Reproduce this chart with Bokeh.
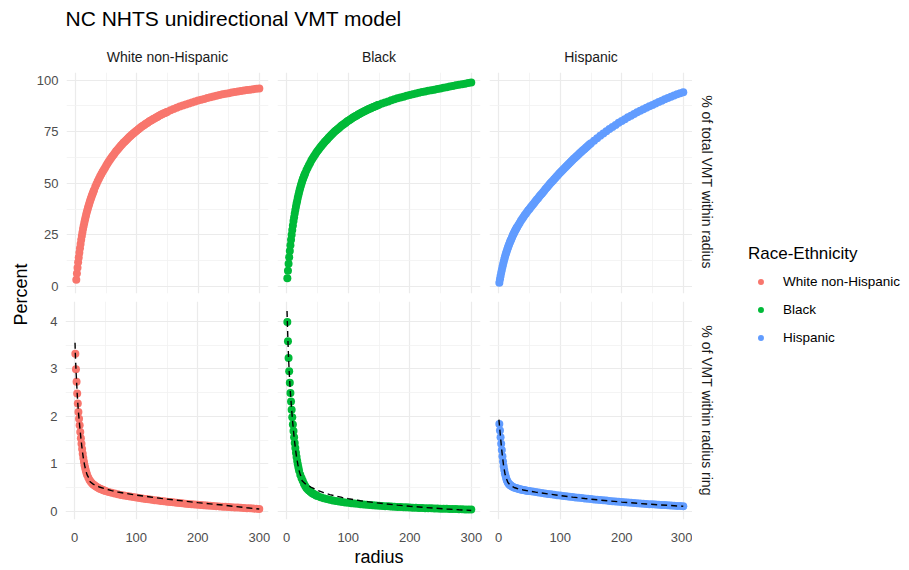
import math
from bokeh.plotting import figure
from bokeh.models import FixedTicker, Range1d, Legend, LegendItem, ColumnDataSource
from bokeh.layouts import row, column
from bokeh.embed import file_html
from bokeh.resources import INLINE
from bokeh.core.properties import value

FONT = "Liberation Sans"
TITLE = "NC NHTS unidirectional VMT model"
GROUPS = ["White non-Hispanic", "Black", "Hispanic"]
COLORS = ["#F8766D", "#00BA38", "#619CFF"]
ROW_LABELS = ["% of total VMT within radius", "% of VMT within radius ring"]
Y_TITLE = "Percent"
X_TITLE = "radius"
LEGEND_TITLE = "Race-Ethnicity"

X_TICKS = [0, 100, 200, 300]
X_MINOR = [50, 150, 250]
TOP_TICKS = [0, 25, 50, 75, 100]
TOP_MINOR = [12.5, 37.5, 62.5, 87.5]
BOT_TICKS = [0, 1, 2, 3, 4]
BOT_MINOR = [0.5, 1.5, 2.5, 3.5]

# ---------- % of total VMT within radius ----------
TOP_X = [1, 2, 3, 4, 5, 6, 7, 8, 9, 10, 11, 12, 13, 14, 15, 16, 17, 18, 19, 20,
         21, 22, 23, 24, 25, 26, 27, 28, 29, 30,
         32, 34, 36, 38, 40, 42, 44, 46, 48, 50,
         52, 54, 56, 58, 60, 62, 64, 66, 68, 70, 72, 74, 76, 78, 80,
         82, 84, 86, 88, 90, 92, 94, 96, 98, 100,
         102, 104, 106, 108, 110, 112, 114, 116, 118, 120, 122, 124, 126, 128, 130,
         132, 134, 136, 138, 140, 142, 144, 146, 148, 150,
         155, 160, 165, 170, 175, 180, 185, 190, 195, 200,
         205, 210, 215, 220, 225, 230, 235, 240, 245, 250,
         255, 260, 265, 270, 275, 280, 285, 290, 295, 300]
TOP_WHITE = [3.3, 6.3, 9.1, 11.7, 14.1, 16.3, 18.5, 20.6, 22.6, 24.5, 26.2, 27.8, 29.3, 30.8, 32.1,
             33.4, 34.6, 35.8, 36.9, 38.0,
             39.0, 40.0, 41.0, 41.9, 42.8, 43.6, 44.4, 45.2, 46.0, 46.7,
             48.3, 49.7, 51.0, 52.2, 53.4, 54.5, 55.6, 56.6, 57.6, 58.6,
             59.6, 60.6, 61.4, 62.3, 63.1, 63.9, 64.7, 65.5, 66.2, 66.9, 67.6, 68.3, 68.9, 69.6, 70.2,
             70.8, 71.4, 72.0, 72.6, 73.1, 73.6, 74.1, 74.6, 75.1, 75.6,
             76.1, 76.6, 77.0, 77.5, 77.9, 78.3, 78.7, 79.1, 79.5, 79.9, 80.3, 80.6, 81.0, 81.3, 81.7,
             82.0, 82.3, 82.7, 83.0, 83.3, 83.6, 83.9, 84.1, 84.4, 84.7,
             85.4, 86.0, 86.6, 87.2, 87.7, 88.2, 88.7, 89.2, 89.7, 90.1,
             90.5, 90.9, 91.3, 91.7, 92.1, 92.4, 92.8, 93.1, 93.4, 93.7,
             94.0, 94.2, 94.5, 94.7, 95.0, 95.2, 95.4, 95.6, 95.8, 96.0]
TOP_BLACK = [4.0, 7.6, 11.0, 14.2, 17.2, 20.0, 22.6, 25.1, 27.4, 29.6, 31.7, 33.6, 35.4, 37.1, 38.7,
             40.2, 41.6, 43.0, 44.3, 45.5,
             46.7, 47.8, 48.9, 49.9, 50.9, 51.8, 52.6, 53.4, 54.2, 54.9,
             56.3, 57.6, 58.8, 59.9, 61.0, 62.0, 63.0, 63.9, 64.8, 65.6,
             66.4, 67.2, 68.0, 68.7, 69.4, 70.1, 70.8, 71.4, 72.1, 72.7, 73.3, 73.9, 74.5, 75.1, 75.6,
             76.1, 76.6, 77.1, 77.6, 78.1, 78.5, 79.0, 79.4, 79.9, 80.3,
             80.7, 81.1, 81.5, 81.9, 82.2, 82.6, 82.9, 83.3, 83.6, 84.0, 84.3, 84.6, 84.9, 85.2, 85.5,
             85.8, 86.1, 86.3, 86.6, 86.9, 87.1, 87.4, 87.6, 87.9, 88.1,
             88.7, 89.2, 89.7, 90.2, 90.7, 91.2, 91.6, 92.0, 92.4, 92.8,
             93.2, 93.5, 93.9, 94.2, 94.5, 94.8, 95.1, 95.4, 95.7, 96.0,
             96.3, 96.6, 96.9, 97.2, 97.5, 97.8, 98.0, 98.3, 98.6, 98.9]
TOP_HISP = [1.8, 3.5, 5.1, 6.6, 8.0, 9.4, 10.7, 11.9, 13.1, 14.2, 15.2, 16.2, 17.1, 18.0, 18.9,
            19.7, 20.5, 21.3, 22.0, 22.7,
            23.4, 24.1, 24.8, 25.4, 26.0, 26.6, 27.2, 27.7, 28.3, 28.8,
            29.8, 30.8, 31.8, 32.7, 33.6, 34.5, 35.3, 36.1, 36.9, 37.6,
            38.4, 39.1, 39.9, 40.6, 41.4, 42.1, 42.8, 43.6, 44.3, 45.0, 45.7, 46.4, 47.2, 47.9, 48.6,
            49.3, 50.0, 50.6, 51.3, 52.0, 52.6, 53.3, 53.9, 54.6, 55.2,
            55.8, 56.5, 57.1, 57.7, 58.3, 58.9, 59.5, 60.1, 60.7, 61.3, 61.9, 62.4, 63.0, 63.5, 64.1,
            64.7, 65.2, 65.8, 66.3, 66.8, 67.3, 67.8, 68.4, 68.9, 69.4,
            70.6, 71.8, 73.0, 74.1, 75.2, 76.3, 77.3, 78.3, 79.3, 80.2,
            81.1, 82.0, 82.8, 83.6, 84.4, 85.2, 85.9, 86.6, 87.3, 88.0,
            88.7, 89.4, 90.0, 90.7, 91.3, 91.9, 92.5, 93.1, 93.6, 94.1]

# ---------- % of VMT within radius ring ----------
BOT_X = [1, 2, 3, 4, 5, 6, 7, 8, 9, 10,
         11, 12, 13, 14, 15, 16, 17, 18, 19, 20,
         22, 24, 26, 28, 30, 32, 34, 36, 38, 40,
         42, 44, 46, 48, 50,
         55, 60, 65, 70, 75, 80, 85, 90, 95, 100,
         105, 110, 115, 120, 125, 130, 135, 140, 145, 150,
         155, 160, 165, 170, 175, 180, 185, 190, 195, 200,
         205, 210, 215, 220, 225, 230, 235, 240, 245, 250,
         255, 260, 265, 270, 275, 280, 285, 290, 295, 300]
BOT_WHITE = [3.32, 2.99, 2.73, 2.48, 2.27, 2.09, 1.95, 1.81, 1.67, 1.54,
             1.42, 1.31, 1.21, 1.12, 1.04, 0.97, 0.91, 0.86, 0.81, 0.77,
             0.71, 0.66, 0.62, 0.59, 0.565, 0.545, 0.527, 0.51, 0.495, 0.48,
             0.468, 0.456, 0.445, 0.435, 0.425,
             0.405, 0.387, 0.371, 0.357, 0.344, 0.332, 0.32, 0.309, 0.298, 0.288,
             0.278, 0.268, 0.259, 0.25, 0.241, 0.232, 0.224, 0.216, 0.208, 0.2,
             0.193, 0.186, 0.179, 0.172, 0.165, 0.159, 0.153, 0.147, 0.141, 0.135,
             0.13, 0.125, 0.12, 0.115, 0.11, 0.105, 0.1, 0.096, 0.092, 0.088,
             0.084, 0.08, 0.076, 0.072, 0.068, 0.064, 0.06, 0.056, 0.052, 0.048]
BOT_BLACK = [3.99, 3.58, 3.23, 2.95, 2.71, 2.49, 2.31, 2.14, 1.98, 1.83,
             1.69, 1.56, 1.44, 1.33, 1.23, 1.14, 1.06, 0.99, 0.92, 0.86,
             0.77, 0.70, 0.64, 0.58, 0.53, 0.49, 0.46, 0.435, 0.413, 0.393,
             0.375, 0.36, 0.346, 0.333, 0.321,
             0.296, 0.275, 0.257, 0.241, 0.227, 0.215, 0.204, 0.194, 0.185, 0.177,
             0.169, 0.162, 0.155, 0.148, 0.142, 0.136, 0.13, 0.125, 0.12, 0.115,
             0.11, 0.106, 0.102, 0.098, 0.094, 0.09, 0.087, 0.084, 0.081, 0.078,
             0.075, 0.072, 0.069, 0.067, 0.064, 0.062, 0.06, 0.058, 0.056, 0.054,
             0.052, 0.05, 0.048, 0.046, 0.044, 0.042, 0.04, 0.038, 0.036, 0.034]
BOT_HISP = [1.84, 1.70, 1.56, 1.42, 1.29, 1.16, 1.05, 0.95, 0.87, 0.80,
            0.75, 0.70, 0.66, 0.63, 0.605, 0.585, 0.57, 0.556, 0.545, 0.535,
            0.52, 0.507, 0.496, 0.487, 0.479, 0.472, 0.465, 0.459, 0.453, 0.448,
            0.443, 0.438, 0.433, 0.428, 0.424,
            0.413, 0.403, 0.393, 0.383, 0.374, 0.365, 0.356, 0.347, 0.338, 0.33,
            0.322, 0.314, 0.306, 0.298, 0.29, 0.283, 0.276, 0.269, 0.262, 0.255,
            0.248, 0.241, 0.235, 0.229, 0.223, 0.217, 0.211, 0.205, 0.199, 0.193,
            0.188, 0.183, 0.178, 0.173, 0.168, 0.163, 0.158, 0.153, 0.148, 0.144,
            0.14, 0.136, 0.132, 0.128, 0.124, 0.12, 0.116, 0.112, 0.108, 0.104]

# model (dashed) lines in the ring row
MODEL_X = [0.5, 1, 2, 3, 4, 5, 6, 8, 10, 12, 14, 16, 18, 20, 22, 24, 25, 30, 40, 50,
           60, 70, 80, 90, 100, 120, 140, 160, 180, 200, 220, 240, 260, 280, 300]
MODEL_WHITE = [3.55, 3.32, 2.99, 2.73, 2.48, 2.27, 2.09, 1.81, 1.54, 1.31,
               1.12, 0.97, 0.86, 0.77, 0.72, 0.69, 0.62, 0.57, 0.51, 0.47,
               0.435, 0.405, 0.38, 0.36, 0.34, 0.305, 0.27, 0.24, 0.21, 0.18,
               0.155, 0.13, 0.1, 0.072, 0.045]
MODEL_BLACK = [4.22, 3.99, 3.58, 3.23, 2.95, 2.71, 2.49, 2.14, 1.83, 1.56,
               1.33, 1.14, 0.99, 0.86, 0.77, 0.72, 0.64, 0.58, 0.50, 0.44,
               0.39, 0.35, 0.32, 0.29, 0.265, 0.22, 0.185, 0.155, 0.128, 0.104,
               0.083, 0.064, 0.047, 0.031, 0.016]
MODEL_HISP_X = [0.3, 1, 2, 3, 4, 5, 6, 8, 10, 12, 15, 20, 25, 30, 40, 50, 60, 80,
                100, 120, 140, 160, 180, 200, 220, 240, 260, 280, 300]
MODEL_HISP = [1.93, 1.83, 1.69, 1.55, 1.41, 1.28, 1.16, 0.95, 0.80, 0.70, 0.605,
              0.535, 0.50, 0.478, 0.447, 0.423, 0.402, 0.364, 0.329, 0.297, 0.268,
              0.24, 0.216, 0.192, 0.172, 0.152, 0.135, 0.119, 0.103]

TOP = [TOP_WHITE, TOP_BLACK, TOP_HISP]
BOT = [BOT_WHITE, BOT_BLACK, BOT_HISP]
MODELS = [(MODEL_X, MODEL_WHITE), (MODEL_X, MODEL_BLACK), (MODEL_HISP_X, MODEL_HISP)]

# ---- layout geometry (px) ----
HEADER_H = 38
LEFT_W = 33
SIDE_W = 212
COLS = [(239, 32, 4), (212, 5, 4), (208, 5, 0)]   # width, border left, border right
ROWS = [(259, 32, 4), (273, 4, 51)]               # height, border top, border bottom
YRANGES = [(-3.4, 103.7), (-0.175, 4.42)]
YTICKS = [(TOP_TICKS, TOP_MINOR), (BOT_TICKS, BOT_MINOR)]
MID_H = ROWS[0][0] + ROWS[1][0]


def style_grid(p, yt, ym):
    p.xgrid.ticker = FixedTicker(ticks=X_TICKS, minor_ticks=X_MINOR)
    p.ygrid.ticker = FixedTicker(ticks=yt, minor_ticks=ym)
    for g in list(p.xgrid) + list(p.ygrid):
        g.grid_line_color = "#EBEBEB"
        g.grid_line_width = 1.2
        g.minor_grid_line_color = "#F1F1F1"
        g.minor_grid_line_width = 0.8


def style_axis(ax, ticks, standoff):
    ax.ticker = FixedTicker(ticks=ticks)
    ax.axis_line_color = None
    ax.major_tick_line_color = None
    ax.minor_tick_line_color = None
    ax.major_tick_in = 0
    ax.major_tick_out = 0
    ax.minor_tick_in = 0
    ax.minor_tick_out = 0
    ax.major_label_standoff = standoff
    ax.major_label_text_font = FONT
    ax.major_label_text_font_size = "13px"
    ax.major_label_text_color = "#4D4D4D"


top_sources = []
rows = []
for ri in range(2):
    h, bt, bb = ROWS[ri]
    yt, ym = YTICKS[ri]
    panels = []
    for ci in range(3):
        w, bl, br = COLS[ci]
        kw = {}
        if ri == 0:
            kw["title"] = GROUPS[ci]
        p = figure(width=w, height=h, x_range=Range1d(-15, 315), y_range=Range1d(*YRANGES[ri]),
                   output_backend="svg", toolbar_location=None,
                   x_axis_location="below" if ri == 1 else None,
                   y_axis_location="left" if ci == 0 else None,
                   min_border_left=bl, min_border_right=br,
                   min_border_top=bt, min_border_bottom=bb,
                   outline_line_color=None, **kw)
        style_grid(p, yt, ym)
        if ri == 0:
            p.title.align = "center"
            p.title.text_font = FONT
            p.title.text_font_size = "14px"
            p.title.text_font_style = "normal"
            p.title.text_color = "#1A1A1A"
            p.title.standoff = 16
        if ci == 0:
            style_axis(p.yaxis[0], yt, 8)
        if ri == 1:
            style_axis(p.xaxis[0], X_TICKS, 13)
            if ci == 1:
                ax = p.xaxis[0]
                ax.axis_label = X_TITLE
                ax.axis_label_standoff = 2
                ax.axis_label_text_font = FONT
                ax.axis_label_text_font_size = "18px"
                ax.axis_label_text_font_style = "normal"
                ax.axis_label_text_color = "black"
        if ri == 0:
            src = ColumnDataSource(dict(x=TOP_X, y=TOP[ci]))
            top_sources.append(src)
        else:
            src = ColumnDataSource(dict(x=BOT_X, y=BOT[ci]))
        p.scatter("x", "y", source=src, size=8, fill_color=COLORS[ci], line_color=None)
        if ri == 1:
            mx, my = MODELS[ci]
            p.line(mx, my, line_color="black", line_width=1.4, line_dash="6 4")
        panels.append(p)
    rows.append(row(*panels))

grid = column(*rows)

# left label strip
left = figure(width=LEFT_W, height=MID_H, x_range=Range1d(0, LEFT_W), y_range=Range1d(0, MID_H),
              output_backend="svg", toolbar_location=None, x_axis_location=None,
              y_axis_location=None, min_border=0, outline_line_color=None)
left.grid.visible = False
left.text(x=[20], y=[MID_H - 256], text=[Y_TITLE], angle=math.pi / 2, text_align="center",
          text_baseline="middle", text_font=value(FONT), text_font_size="18px", text_color="black")

# right side: row strips + legend
side = figure(width=SIDE_W, height=MID_H, x_range=Range1d(0, SIDE_W), y_range=Range1d(0, MID_H),
              output_backend="svg", toolbar_location=None, x_axis_location=None,
              y_axis_location=None, min_border=0, outline_line_color=None)
side.grid.visible = False
side.extra_x_ranges = {"offscreen": Range1d(-20, -10)}
side.text(x=[14, 14], y=[MID_H - 143.5, MID_H - 372], text=ROW_LABELS, angle=-math.pi / 2,
          text_align="center", text_baseline="middle", text_font=value(FONT),
          text_font_size="14px", text_color="#1A1A1A")
items = []
for g, c, src in zip(GROUPS, COLORS, top_sources):
    # legend keys: same data, drawn on an off-screen range so only the key shows
    r = side.scatter("x", "y", source=src, x_range_name="offscreen", size=6,
                     fill_color=c, line_color=None)
    items.append(LegendItem(label=g, renderers=[r]))
leg = Legend(items=items, location=(56, 225), title=LEGEND_TITLE,
             title_text_font=FONT, title_text_font_size="17px", title_text_font_style="normal",
             title_text_color="black", title_standoff=10,
             label_text_font=FONT, label_text_font_size="13.5px", label_text_color="black",
             glyph_width=25, glyph_height=15, label_height=15, label_standoff=10, spacing=13,
             padding=0, margin=0, border_line_color=None, background_fill_alpha=0)
side.add_layout(leg)

# header with the plot title
TOTAL_W = LEFT_W + sum(c[0] for c in COLS) + SIDE_W
header = figure(width=TOTAL_W, height=HEADER_H, x_range=Range1d(0, TOTAL_W),
                y_range=Range1d(0, HEADER_H),
                output_backend="svg", toolbar_location=None, x_axis_location=None,
                y_axis_location=None, min_border=0, outline_line_color=None)
header.grid.visible = False
header.text(x=[65], y=[HEADER_H - 18], text=[TITLE], text_align="left", text_baseline="middle",
            text_font=value(FONT), text_font_size="21px", text_color="black")

layout = column(header, row(left, grid, side))

open("out.html", "w").write(file_html(layout, INLINE))
